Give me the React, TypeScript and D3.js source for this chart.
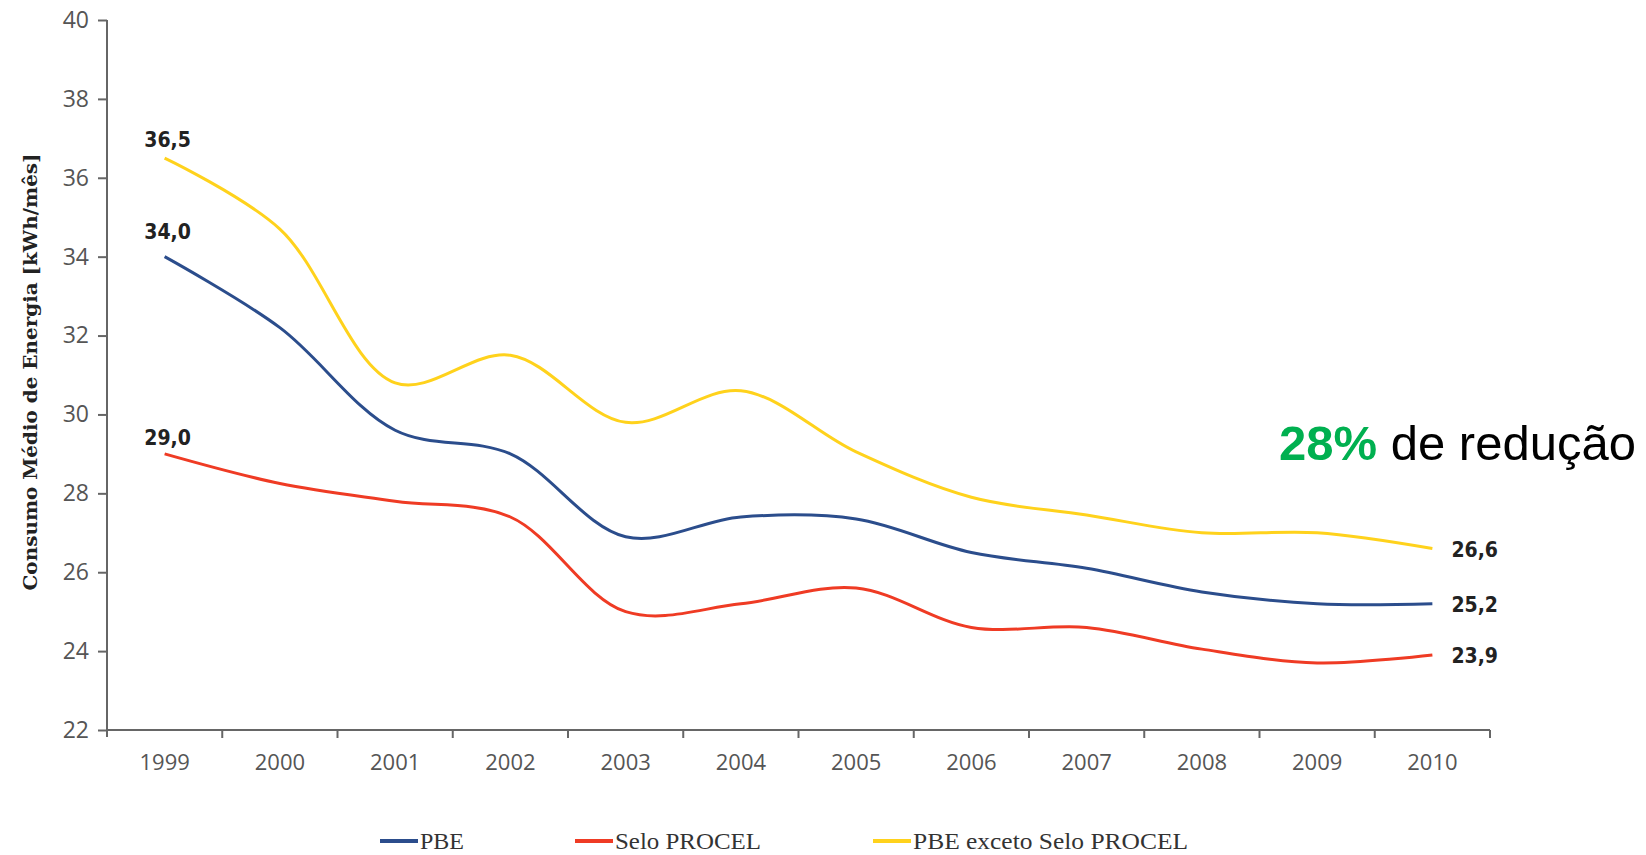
import { useRef, useEffect } from 'react';
import * as d3 from 'd3';

const years = ['1999', '2000', '2001', '2002', '2003', '2004', '2005', '2006', '2007', '2008', '2009', '2010'];
const pbe = [34.0, 32.2, 29.6, 29.0, 26.9, 27.4, 27.35, 26.5, 26.1, 25.5, 25.2, 25.2];
const procel = [29.0, 28.25, 27.8, 27.4, 25.0, 25.2, 25.6, 24.6, 24.6, 24.05, 23.7, 23.9];
const exceto = [36.5, 34.7, 30.8, 31.5, 29.8, 30.6, 29.05, 27.9, 27.45, 27.0, 27.0, 26.6];
const yTicks = [22, 24, 26, 28, 30, 32, 34, 36, 38, 40];

const series = [
  { name: 'PBE', values: pbe, color: '#2b4d8c', labelDy: -18, legendX: 380, legendW: 44 },
  { name: 'Selo PROCEL', values: procel, color: '#ef3b24', labelDy: -9, legendX: 575, legendW: 146 },
  { name: 'PBE exceto Selo PROCEL', values: exceto, color: '#ffd21c', labelDy: -11, legendX: 873, legendW: 275 },
];

const fmt = (v: number) => v.toFixed(1).replace('.', ',');

const App = () => {
  const svgRef = useRef<SVGSVGElement>(null);

  useEffect(() => {
    const svg = d3.select(svgRef.current);
    svg.selectAll('*').remove();
    const width = 1646;
    const height = 855;
    const margin = { top: 20, right: 156, bottom: 125, left: 107 };

    const x = d3.scaleBand()
      .domain(years)
      .range([margin.left, width - margin.right])
      .paddingInner(0)
      .paddingOuter(0);

    const y = d3.scaleLinear()
      .domain([22, 40])
      .range([height - margin.bottom, margin.top]);

    const cx = (i: number) => (x(years[i]) as number) + x.bandwidth() / 2;
    const axisColor = '#666';
    const tickFont = '"Open Sans", sans-serif';

    // y axis
    const yAxis = svg.append('g')
      .attr('transform', `translate(${margin.left},0)`)
      .call(d3.axisLeft(y).tickValues(yTicks).tickSize(9).tickPadding(9).tickFormat(d3.format('d')));
    yAxis.select('.domain').attr('stroke', axisColor).attr('stroke-width', 2)
      .attr('d', `M0,${y(40)}V${y(22) + 7}`);
    yAxis.selectAll('.tick line').attr('stroke', axisColor).attr('stroke-width', 2);
    yAxis.selectAll('.tick text').attr('fill', '#555').attr('font-size', 23).attr('font-family', tickFont);

    // x axis
    const xAxis = svg.append('g')
      .attr('transform', `translate(0,${y(22)})`)
      .call(d3.axisBottom(x).tickSize(0).tickPadding(24));
    xAxis.select('.domain').attr('stroke', axisColor).attr('stroke-width', 2)
      .attr('d', `M${margin.left},0H${width - margin.right}`);
    xAxis.selectAll('.tick text').attr('fill', '#555').attr('font-size', 22).attr('font-family', tickFont);
    xAxis.selectAll('.boundary')
      .data(years.slice(1).concat(['end']))
      .join('line')
      .attr('class', 'boundary')
      .attr('x1', (_d, i) => (x(years[0]) as number) + x.bandwidth() * (i + 1))
      .attr('x2', (_d, i) => (x(years[0]) as number) + x.bandwidth() * (i + 1))
      .attr('y1', 0)
      .attr('y2', 8)
      .attr('stroke', axisColor)
      .attr('stroke-width', 2);

    // lines
    const line = d3.line<number>()
      .x((_d, i) => cx(i))
      .y(d => y(d))
      .curve(d3.curveCatmullRom.alpha(0.5));

    const plot = svg.append('g');
    plot.selectAll('path')
      .data(series)
      .join('path')
      .attr('fill', 'none')
      .attr('stroke', d => d.color)
      .attr('stroke-width', 3)
      .attr('d', d => line(d.values));

    // data labels
    const labels = svg.append('g')
      .attr('font-family', '"DejaVu Sans Condensed", sans-serif')
      .attr('font-weight', 'bold')
      .attr('font-size', 21)
      .attr('fill', '#222');
    series.forEach(s => {
      labels.append('text')
        .attr('x', cx(0) + 3)
        .attr('y', y(s.values[0]) + s.labelDy)
        .attr('text-anchor', 'middle')
        .text(fmt(s.values[0]));
      const last = s.values.length - 1;
      labels.append('text')
        .attr('x', cx(last) + 19)
        .attr('y', y(s.values[last]))
        .attr('dy', '0.38em')
        .text(fmt(s.values[last]));
    });

    // y axis title
    svg.append('text')
      .attr('transform', `translate(31,${372}) rotate(-90)`)
      .attr('text-anchor', 'middle')
      .attr('dy', '0.35em')
      .attr('font-family', '"DejaVu Serif", serif')
      .attr('font-weight', 'bold')
      .attr('font-size', 18)
      .attr('textLength', 437)
      .attr('lengthAdjust', 'spacingAndGlyphs')
      .attr('fill', '#222')
      .text('Consumo Médio de Energia [kWh/mês]');

    // annotation
    const ann = svg.append('text')
      .attr('x', 1279)
      .attr('y', 460)
      .attr('font-family', '"Liberation Sans", Arial, sans-serif')
      .attr('font-size', 49)
      .attr('fill', '#000');
    ann.append('tspan').attr('font-weight', 'bold').attr('fill', '#00b050').text('28%');
    ann.append('tspan').text(' de redução');

    // legend
    const legend = svg.append('g')
      .attr('font-family', '"Liberation Serif", serif')
      .attr('font-size', 24)
      .attr('fill', '#333');
    series.forEach(s => {
      legend.append('line')
        .attr('x1', s.legendX).attr('x2', s.legendX + 38)
        .attr('y1', 841).attr('y2', 841)
        .attr('stroke', s.color).attr('stroke-width', 4);
      legend.append('text')
        .attr('x', s.legendX + 40)
        .attr('y', 849)
        .attr('textLength', s.legendW)
        .attr('lengthAdjust', 'spacingAndGlyphs')
        .text(s.name);
    });
  }, []);

  return (
    <svg ref={svgRef} width={1646} height={855}
      style={{ position: 'absolute', left: 0, top: 0, background: '#fff' }} />
  );
};

export default App;
